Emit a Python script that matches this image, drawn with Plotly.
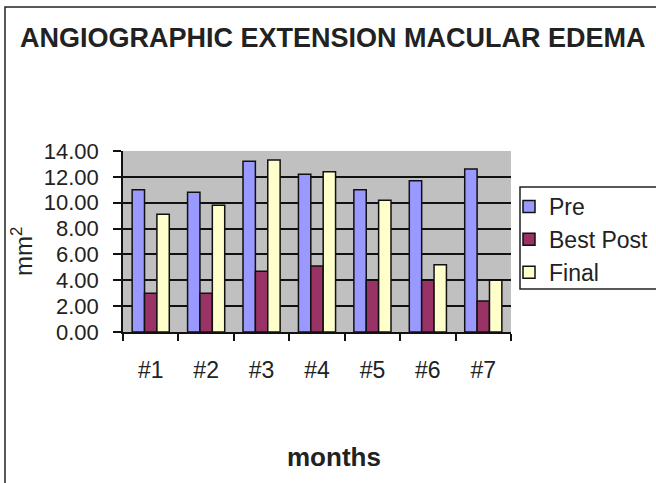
import plotly.graph_objects as go

# Angiographic extension of macular edema (mm^2) per control
categories = ["#1", "#2", "#3", "#4", "#5", "#6", "#7"]
pre = [11.0, 10.8, 13.2, 12.2, 11.0, 11.7, 12.6]
best_post = [3.0, 3.0, 4.7, 5.1, 4.0, 4.0, 2.4]
final = [9.1, 9.8, 13.3, 12.4, 10.2, 5.2, 4.0]
y_ticks = [0, 2, 4, 6, 8, 10, 12, 14]
y_tick_text = [f"{v:.2f}" for v in y_ticks]

W, H = 656, 483
L, R, T, B = 123, 145, 151, 151
PW, PH = W - L - R, H - T - B


def px_x(p):
    return (p - L) / PW


def px_y(p):
    return (H - B - p) / PH


FONT = "Liberation Sans, Arial, sans-serif"
INK = "#222222"

fig = go.Figure()
series = [("Pre", pre, "#9999ff"), ("Best Post", best_post, "#993366"), ("Final", final, "#ffffcc")]
for name, vals, color in series:
    fig.add_trace(go.Bar(
        name=name, x=categories, y=vals,
        marker=dict(color=color, line=dict(color="#111111", width=1.5)),
    ))

fig.update_layout(
    width=W, height=H,
    margin=dict(l=L, r=R, t=T, b=B, autoexpand=False),
    paper_bgcolor="white",
    plot_bgcolor="#c0c0c0",
    barmode="group", bargap=0.33, bargroupgap=0,
    font=dict(family=FONT, color=INK),
    title=dict(
        text="<b>ANGIOGRAPHIC EXTENSION MACULAR EDEMA</b>",
        x=20 / W, xanchor="left", xref="container",
        y=1 - 38 / H, yanchor="middle", yref="container",
        font=dict(family=FONT, size=27, color=INK),
    ),
    xaxis=dict(
        type="category", tickson="boundaries",
        ticks="outside", ticklen=7, tickwidth=1.5, tickcolor="#111111",
        showline=True, linecolor="#111111", linewidth=1.5,
        showgrid=False, tickfont=dict(size=23, color=INK),
        ticklabelstandoff=17,
    ),
    yaxis=dict(
        range=[0, 14], tickvals=y_ticks, ticktext=y_tick_text,
        ticks="outside", ticklen=8, tickwidth=1.5, tickcolor="#111111",
        showline=True, linecolor="#111111", linewidth=1.5,
        showgrid=True, gridcolor="#111111", gridwidth=1.5,
        zeroline=False, tickfont=dict(size=22, color=INK),
        ticklabelstandoff=10,
    ),
    legend=dict(
        x=px_x(509), xanchor="left", y=px_y(185), yanchor="top",
        bgcolor="rgba(0,0,0,0)", borderwidth=0,
        font=dict(size=23, color=INK), itemwidth=30,
        tracegroupgap=0,
    ),
    showlegend=True,
)

# Outer frame
fig.add_shape(
    type="rect", xref="paper", yref="paper",
    x0=px_x(5), x1=px_x(W + 10), y0=px_y(H + 10), y1=px_y(7),
    line=dict(color="#222222", width=1.5), fillcolor="rgba(0,0,0,0)", layer="below",
)
# Legend box (runs past the right edge)
fig.add_shape(
    type="rect", xref="paper", yref="paper",
    x0=px_x(520), x1=px_x(W + 10), y0=px_y(289), y1=px_y(187),
    line=dict(color="#222222", width=1.5), fillcolor="white", layer="below",
)

fig.add_annotation(
    text="mm<sup>2</sup>", textangle=-90, showarrow=False,
    xref="paper", yref="paper", x=px_x(22), y=px_y(251),
    xanchor="center", yanchor="middle",
    font=dict(size=24, color=INK),
)
fig.add_annotation(
    text="<b>months</b>", showarrow=False,
    xref="paper", yref="paper", x=px_x(333.5), y=px_y(456.5),
    xanchor="center", yanchor="middle",
    font=dict(size=26, color=INK),
)

fig.write_html("out.html")
